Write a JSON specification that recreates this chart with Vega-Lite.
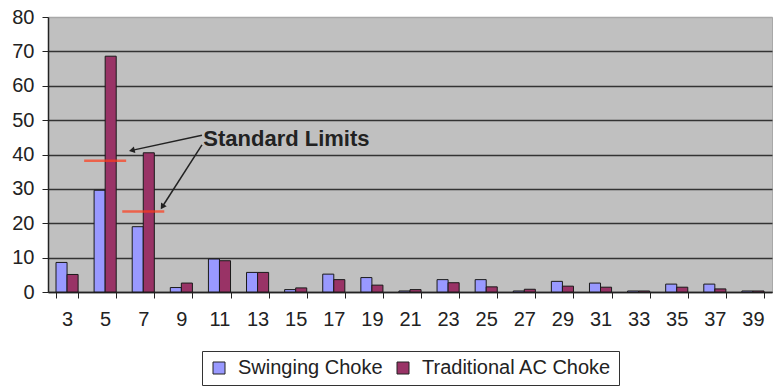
{
  "$schema": "https://vega.github.io/schema/vega-lite/v6.json",
  "width": 724,
  "height": 275,
  "autosize": {"type": "none"},
  "padding": {"left": 48, "top": 17, "right": 1, "bottom": 95},
  "background": "white",
  "config": {
    "font": "Liberation Sans",
    "view": {"fill": "#C0C0C0", "stroke": "#A8A8A8"}
  },
  "datasets": {
    "harmonics": [
      {"order": 3, "series": "Swinging Choke", "value": 8.6},
      {"order": 3, "series": "Traditional AC Choke", "value": 5.1},
      {"order": 5, "series": "Swinging Choke", "value": 29.6},
      {"order": 5, "series": "Traditional AC Choke", "value": 68.6},
      {"order": 7, "series": "Swinging Choke", "value": 19.0},
      {"order": 7, "series": "Traditional AC Choke", "value": 40.5},
      {"order": 9, "series": "Swinging Choke", "value": 1.3},
      {"order": 9, "series": "Traditional AC Choke", "value": 2.6},
      {"order": 11, "series": "Swinging Choke", "value": 9.6},
      {"order": 11, "series": "Traditional AC Choke", "value": 9.1},
      {"order": 13, "series": "Swinging Choke", "value": 5.7},
      {"order": 13, "series": "Traditional AC Choke", "value": 5.7},
      {"order": 15, "series": "Swinging Choke", "value": 0.7},
      {"order": 15, "series": "Traditional AC Choke", "value": 1.2},
      {"order": 17, "series": "Swinging Choke", "value": 5.2},
      {"order": 17, "series": "Traditional AC Choke", "value": 3.6},
      {"order": 19, "series": "Swinging Choke", "value": 4.2},
      {"order": 19, "series": "Traditional AC Choke", "value": 2.0},
      {"order": 21, "series": "Swinging Choke", "value": 0.3},
      {"order": 21, "series": "Traditional AC Choke", "value": 0.7},
      {"order": 23, "series": "Swinging Choke", "value": 3.6},
      {"order": 23, "series": "Traditional AC Choke", "value": 2.7},
      {"order": 25, "series": "Swinging Choke", "value": 3.6},
      {"order": 25, "series": "Traditional AC Choke", "value": 1.5},
      {"order": 27, "series": "Swinging Choke", "value": 0.3},
      {"order": 27, "series": "Traditional AC Choke", "value": 0.8},
      {"order": 29, "series": "Swinging Choke", "value": 3.1},
      {"order": 29, "series": "Traditional AC Choke", "value": 1.7},
      {"order": 31, "series": "Swinging Choke", "value": 2.6},
      {"order": 31, "series": "Traditional AC Choke", "value": 1.4},
      {"order": 33, "series": "Swinging Choke", "value": 0.3},
      {"order": 33, "series": "Traditional AC Choke", "value": 0.3},
      {"order": 35, "series": "Swinging Choke", "value": 2.3},
      {"order": 35, "series": "Traditional AC Choke", "value": 1.4},
      {"order": 37, "series": "Swinging Choke", "value": 2.3},
      {"order": 37, "series": "Traditional AC Choke", "value": 0.9},
      {"order": 39, "series": "Swinging Choke", "value": 0.3},
      {"order": 39, "series": "Traditional AC Choke", "value": 0.3}
    ],
    "limits": [
      {"order": 5, "limit": 38.2},
      {"order": 7, "limit": 23.4}
    ],
    "arrow1": [{"x": 10.08, "y": 45.6, "x2": 6.4, "y2": 41.2}],
    "arrow2": [{"x": 10.08, "y": 42.8, "x2": 8.0, "y2": 24.8}],
    "label": [{"x": 10.15, "y": 44.6, "text": "Standard Limits"}]
  },
  "layer": [
    {
      "data": {"name": "harmonics"},
      "mark": {"type": "bar", "stroke": "#1a1a1a", "strokeWidth": 1},
      "encoding": {
        "x": {
          "field": "order", "type": "ordinal",
          "scale": {"paddingInner": 0.42, "paddingOuter": 0.21},
          "axis": {"title": null, "labelAngle": 0, "tickBand": "extent", "domainColor": "#222", "tickColor": "#222", "tickSize": 6, "labelFontSize": 20, "labelColor": "#222", "labelPadding": 11, "grid": false, "domainWidth": 1.5}
        },
        "xOffset": {
          "field": "series", "type": "nominal",
          "scale": {"paddingInner": 0, "paddingOuter": 0},
          "sort": ["Swinging Choke", "Traditional AC Choke"]
        },
        "y": {
          "field": "value", "type": "quantitative",
          "scale": {"domain": [0, 80], "nice": false},
          "axis": {"title": null, "values": [0, 10, 20, 30, 40, 50, 60, 70, 80], "tickSize": 6, "labelPadding": 8, "labelFontSize": 20, "labelColor": "#222", "grid": true, "gridColor": {"condition": {"test": "datum.value === 80", "value": "#A8A8A8"}, "value": "#333333"}, "gridWidth": 1.5, "domainColor": "#222", "tickColor": "#222", "domainWidth": 1.5}
        },
        "color": {
          "field": "series", "type": "nominal",
          "scale": {"domain": ["Swinging Choke", "Traditional AC Choke"], "range": ["#9999FF", "#993366"]},
          "legend": {"title": null, "orient": "none", "legendX": 154, "legendY": 334, "direction": "horizontal", "symbolType": "square", "symbolSize": 144, "symbolStrokeColor": "#222", "symbolStrokeWidth": 1, "labelFontSize": 20, "labelLimit": 400, "labelColor": "#222", "strokeColor": "#333", "fillColor": "white", "padding": 7, "columnPadding": 10, "labelOffset": 9}
        }
      }
    },
    {
      "layer": [
        {
          "data": {"name": "limits"},
          "mark": {"type": "tick", "orient": "horizontal", "color": "#FF3A1A", "thickness": 2.5, "size": 42},
          "encoding": {
            "x": {"field": "order", "type": "quantitative", "scale": {"domain": [2, 40], "nice": false, "zero": false}, "axis": null},
            "y": {"field": "limit", "type": "quantitative", "axis": null}
          }
        },
        {
          "data": {"name": "arrow1"},
          "mark": {"type": "rule", "color": "#222", "strokeWidth": 1.5},
          "encoding": {
            "x": {"field": "x", "type": "quantitative", "axis": null},
            "y": {"field": "y", "type": "quantitative", "axis": null},
            "x2": {"field": "x2"},
            "y2": {"field": "y2"}
          }
        },
        {
          "data": {"name": "arrow1"},
          "mark": {"type": "point", "shape": "triangle-up", "filled": true, "color": "#222", "size": 45, "angle": 257, "opacity": 1},
          "encoding": {
            "x": {"field": "x2", "type": "quantitative", "axis": null},
            "y": {"field": "y2", "type": "quantitative", "axis": null}
          }
        },
        {
          "data": {"name": "arrow2"},
          "mark": {"type": "rule", "color": "#222", "strokeWidth": 1.5},
          "encoding": {
            "x": {"field": "x", "type": "quantitative", "axis": null},
            "y": {"field": "y", "type": "quantitative", "axis": null},
            "x2": {"field": "x2"},
            "y2": {"field": "y2"}
          }
        },
        {
          "data": {"name": "arrow2"},
          "mark": {"type": "point", "shape": "triangle-up", "filled": true, "color": "#222", "size": 45, "angle": 213, "opacity": 1},
          "encoding": {
            "x": {"field": "x2", "type": "quantitative", "axis": null},
            "y": {"field": "y2", "type": "quantitative", "axis": null}
          }
        },
        {
          "data": {"name": "label"},
          "mark": {"type": "text", "align": "left", "baseline": "middle", "fontSize": 22, "fontWeight": "bold", "color": "#222"},
          "encoding": {
            "x": {"field": "x", "type": "quantitative", "axis": null},
            "y": {"field": "y", "type": "quantitative", "axis": null},
            "text": {"field": "text"}
          }
        }
      ]
    }
  ],
  "resolve": {"scale": {"x": "independent", "xOffset": "independent"}, "axis": {"y": "independent"}}
}
